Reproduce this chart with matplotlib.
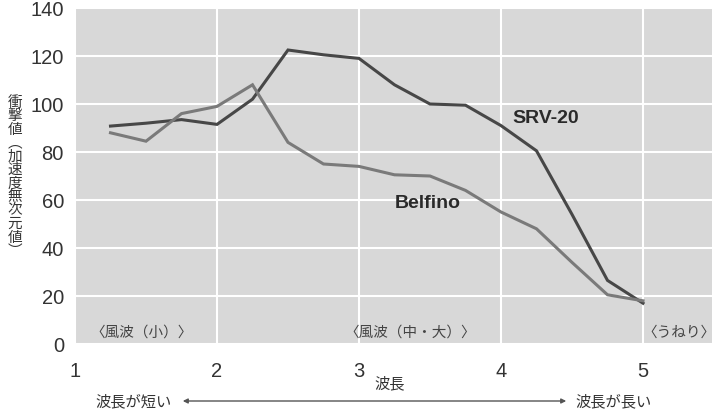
import matplotlib
matplotlib.use("Agg")
import matplotlib.pyplot as plt

plt.rcParams['font.family'] = ['Liberation Sans', 'Noto Sans CJK JP', 'DejaVu Sans']

wave = [1.25, 1.5, 1.75, 2.0, 2.25, 2.5, 2.75, 3.0, 3.25, 3.5, 3.75, 4.0, 4.25, 4.5, 4.75, 5.0]
srv20 = [90.8, 92.0, 93.5, 91.5, 102, 122.5, 120.5, 119, 108, 100, 99.5, 91, 80.5, 54, 26.5, 17]
belfino = [88, 84.5, 96, 99, 108, 84, 75, 74, 70.5, 70, 64, 55, 48, 34, 20.5, 18]

xticks = [1, 2, 3, 4, 5]
yticks = [0, 20, 40, 60, 80, 100, 120, 140]
zones = ["〈風波（小）〉", "〈風波（中・大）〉", "〈うねり〉"]
zone_x = [1.47, 3.36, 5.25]
ylabel = "衝撃値︵加速度無次元値︶"

W, H = 721, 410
fig = plt.figure(figsize=(W / 100, H / 100), dpi=100)
ax = fig.add_axes([75 / W, 1 - 345 / H, (712 - 75) / W, (345 - 9) / H])
ax.set_facecolor("#d8d8d8")
for s in ax.spines.values():
    s.set_visible(False)

ax.set_xlim(1, 1 + (712 - 75) / 142)
ax.set_ylim(0, 140)
ax.set_xticks(xticks)
ax.set_yticks(yticks)
ax.grid(True, color="white", lw=1.5)
ax.set_axisbelow(True)
ax.tick_params(length=0, labelsize=14.5, colors="#333333")
ax.tick_params(axis="x", pad=12)
ax.tick_params(axis="y", pad=8)

ax.plot(wave, srv20, color="#474747", lw=2.2, solid_joinstyle="miter")
ax.plot(wave, belfino, color="#7a7a7a", lw=2.2, solid_joinstyle="miter")

ax.text(4.08, 94.5, "SRV-20", fontsize=14, fontweight="bold", color="#2a2a2a",
        va="center")
ax.text(3.25, 59, "Belfino", fontsize=14, fontweight="bold", color="#2a2a2a",
        va="center")

for z, zx in zip(zones, zone_x):
    ax.text(zx, 5, z, fontsize=10.5, color="#444444", ha="center", va="center",
            family=["Noto Sans CJK JP", "DejaVu Sans"])

fig.text(15 / W, 1 - 177 / H, "\n".join(ylabel), fontsize=10.5, color="#333333",
         ha="center", va="center", linespacing=0.95,
         family=["Noto Sans CJK JP", "DejaVu Sans"])

fig.text(390 / W, 1 - 384 / H, "波長", fontsize=11, color="#333333",
         ha="center", va="center", family=["Noto Sans CJK JP", "DejaVu Sans"])
fig.text(172 / W, 1 - 402 / H, "波長が短い", fontsize=11, color="#333333",
         ha="right", va="center", family=["Noto Sans CJK JP", "DejaVu Sans"])
fig.text(575 / W, 1 - 402 / H, "波長が長い", fontsize=11, color="#333333",
         ha="left", va="center", family=["Noto Sans CJK JP", "DejaVu Sans"])
fig.add_artist(matplotlib.patches.FancyArrowPatch(
    (180 / W, 1 - 402 / H), (569 / W, 1 - 402 / H), transform=fig.transFigure,
    arrowstyle="<|-|>", mutation_scale=7, color="#555555", lw=1.0))

fig.savefig("out.png", dpi=100)
